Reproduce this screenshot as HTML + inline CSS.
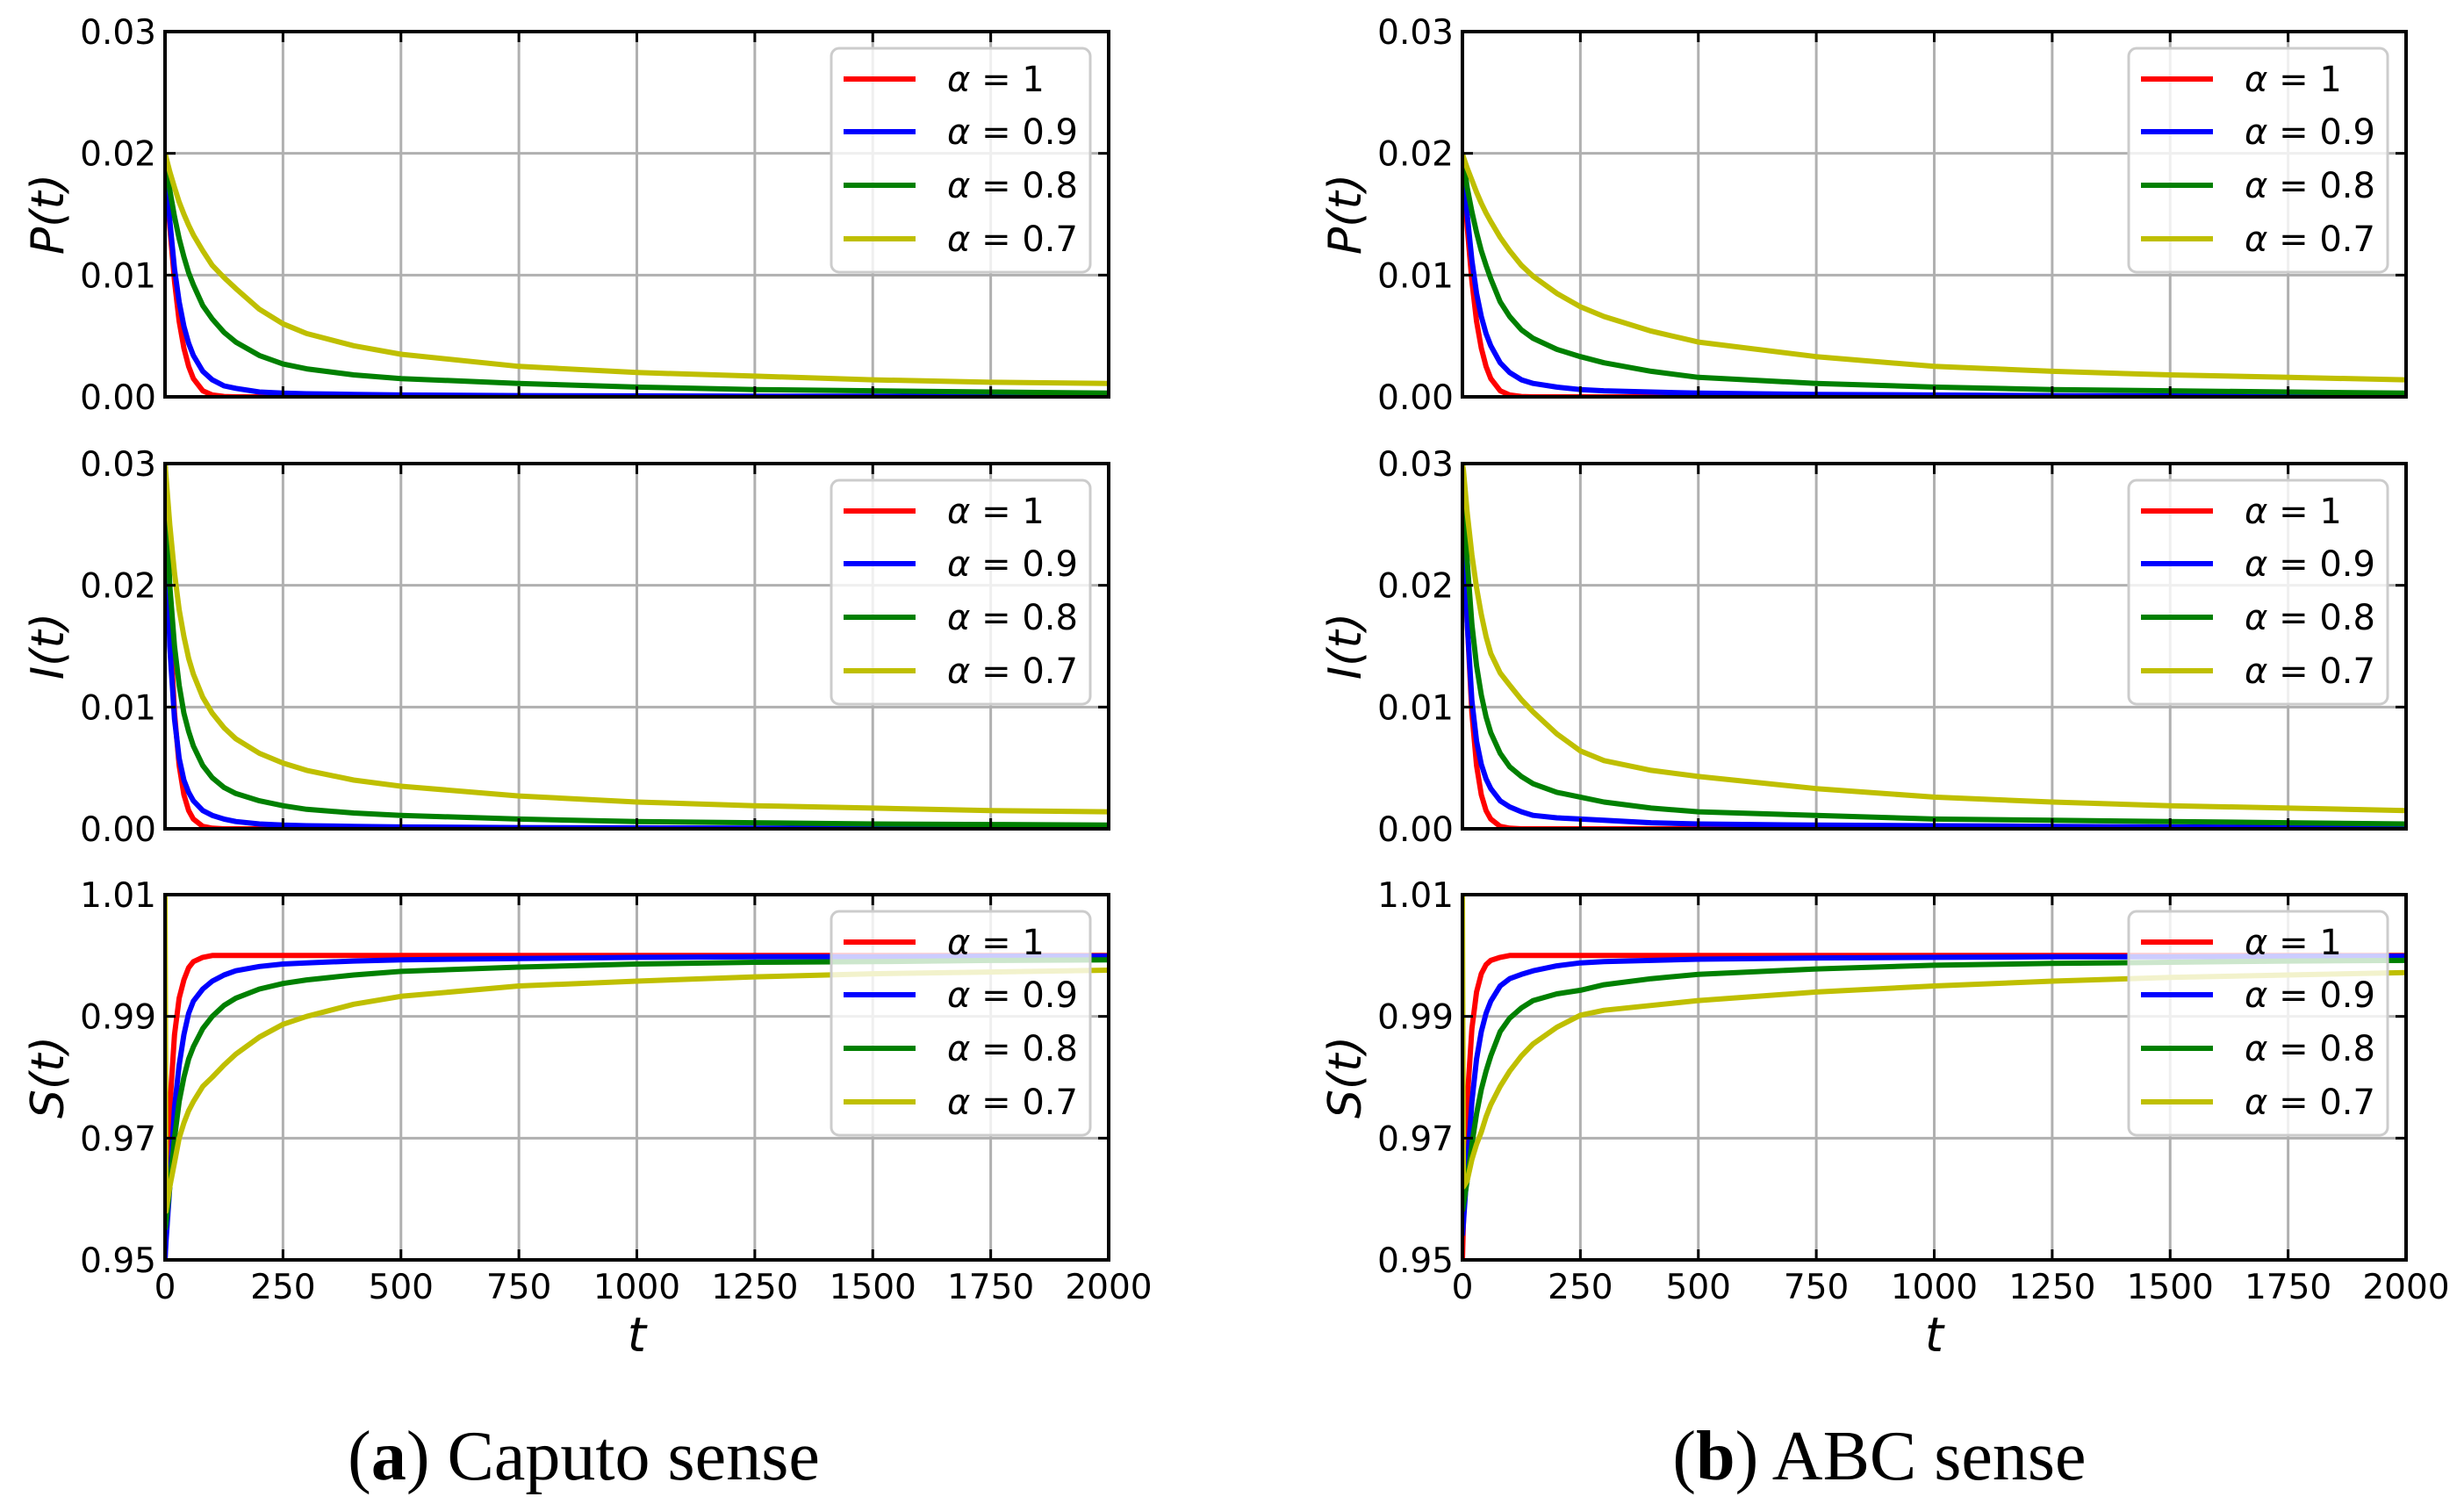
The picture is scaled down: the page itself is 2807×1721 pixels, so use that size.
<!DOCTYPE html>
<html><head><meta charset="utf-8"><style>
html,body{margin:0;padding:0;background:#fff;}
svg{display:block;}
text{font-family:"DejaVu Sans","Liberation Sans",sans-serif;}
</style></head><body>
<svg id="fig" width="2807" height="1721" viewBox="0 0 2807 1721" xmlns="http://www.w3.org/2000/svg"></svg>
<script>
// Shared time samples
const tSamples=[0,2,10,20,30,40,50,60,80,100,125,150,200,250,300,400,500,750,1000,1250,1500,1750,2000];
const xTickLabels=["0","250","500","750","1000","1250","1500","1750","2000"];
const xTickValues=[0,250,500,750,1000,1250,1500,1750,2000];
const legendLabels=["α = 1","α = 0.9","α = 0.8","α = 0.7"];
const seriesColors=["#ff0000","#0000ff","#008000","#bfbf00"];
const pTicks=[0,0.01,0.02,0.03];
const pTickLabels=["0.00","0.01","0.02","0.03"];
const sTicks=[0.95,0.97,0.99,1.01];
const sTickLabels=["0.95","0.97","0.99","1.01"];

// Caputo P(t)
const capP1=[0.02,0.019,0.014,0.0095,0.0062,0.004,0.0025,0.0015,0.0005,0.00015,0.00003,0,0,0,0,0,0,0,0,0,0,0,0];
const capP09=[0.02,0.019,0.0145,0.0105,0.0078,0.0058,0.0044,0.0034,0.0021,0.0014,0.0009,0.0007,0.0004,0.0003,0.00025,0.0002,0.00015,0.0001,0.00008,0.00006,0.00005,0.00004,0.00003];
const capP08=[0.02,0.0195,0.017,0.0148,0.013,0.0115,0.0102,0.0092,0.0075,0.0064,0.0053,0.0045,0.0034,0.0027,0.0023,0.0018,0.0015,0.0011,0.0008,0.0006,0.0005,0.0004,0.0003];
const capP07=[0.02,0.0197,0.0185,0.0172,0.016,0.015,0.0141,0.0133,0.012,0.0108,0.0098,0.0089,0.0072,0.006,0.0052,0.0042,0.0035,0.0025,0.002,0.0017,0.0014,0.0012,0.0011];
// Caputo I(t)
const capI1=[0.03,0.027,0.017,0.0095,0.0052,0.0028,0.0015,0.0008,0.0002,0.00005,0,0,0,0,0,0,0,0,0,0,0,0,0];
const capI09=[0.03,0.027,0.015,0.009,0.0058,0.004,0.003,0.0023,0.0015,0.0011,0.0008,0.0006,0.0004,0.0003,0.00025,0.0002,0.00015,0.0001,0.00008,0.00006,0.00005,0.00004,0.00003];
const capI08=[0.03,0.028,0.02,0.015,0.0118,0.0095,0.008,0.0068,0.0052,0.0042,0.0034,0.0029,0.0023,0.0019,0.0016,0.0013,0.0011,0.0008,0.0006,0.0005,0.0004,0.00035,0.0003];
const capI07=[0.03,0.029,0.025,0.021,0.018,0.0158,0.014,0.0127,0.0108,0.0095,0.0083,0.0074,0.0062,0.0054,0.0048,0.004,0.0035,0.0027,0.0022,0.0019,0.0017,0.0015,0.0014];
// Caputo S(t)
const capS1=[0.95,0.955,0.975,0.987,0.993,0.996,0.998,0.999,0.9997,1.0,1.0,1.0,1.0,1.0,1.0,1.0,1.0,1.0,1.0,1.0,1.0,1.0,1.0];
const capS09=[0.95,0.953,0.962,0.975,0.982,0.987,0.9905,0.9925,0.9945,0.9958,0.9968,0.9975,0.9982,0.9986,0.9988,0.9991,0.9993,0.9995,0.9997,0.9998,0.9998,0.9999,0.9999];
const capS08=[0.955,0.956,0.962,0.97,0.976,0.98,0.983,0.985,0.988,0.99,0.9918,0.993,0.9945,0.9954,0.996,0.9968,0.9974,0.9981,0.9986,0.9989,0.999,0.9992,0.9993];
const capS07=[1.012,0.958,0.962,0.966,0.97,0.9725,0.9745,0.976,0.9785,0.98,0.982,0.9838,0.9866,0.9887,0.99,0.992,0.9933,0.995,0.9958,0.9965,0.997,0.9973,0.9976];
// ABC P(t)
const abcP1=[0.02,0.019,0.014,0.0095,0.0062,0.004,0.0025,0.0015,0.0005,0.00015,0.00003,0,0,0,0,0,0,0,0,0,0,0,0];
const abcP09=[0.02,0.019,0.015,0.0112,0.0085,0.0066,0.0052,0.0042,0.0028,0.002,0.0014,0.0011,0.0008,0.0006,0.0005,0.0004,0.0003,0.0002,0.00015,0.0001,0.00008,0.00006,0.00005];
const abcP08=[0.02,0.0195,0.0172,0.0152,0.0135,0.012,0.0108,0.0097,0.0078,0.0066,0.0055,0.0048,0.0039,0.0033,0.0028,0.0021,0.0016,0.0011,0.0008,0.0006,0.0005,0.0004,0.0003];
const abcP07=[0.02,0.0197,0.0188,0.0178,0.0168,0.0159,0.0151,0.0144,0.0131,0.012,0.0108,0.0099,0.0085,0.0074,0.0066,0.0054,0.0045,0.0033,0.0025,0.0021,0.0018,0.0016,0.0014];
// ABC I(t)
const abcI1=[0.03,0.027,0.017,0.0095,0.0052,0.0028,0.0015,0.0008,0.0002,0.00005,0,0,0,0,0,0,0,0,0,0,0,0,0];
const abcI09=[0.03,0.027,0.017,0.0105,0.0072,0.0053,0.0041,0.0033,0.0023,0.0018,0.0014,0.0011,0.0009,0.0008,0.0007,0.0005,0.0004,0.0003,0.00025,0.0002,0.00015,0.00012,0.0001];
const abcI08=[0.03,0.029,0.022,0.0168,0.0134,0.011,0.0092,0.0079,0.0062,0.0051,0.0043,0.0037,0.003,0.0026,0.0022,0.0017,0.0014,0.0011,0.0008,0.0007,0.0006,0.0005,0.0004];
const abcI07=[0.03,0.0295,0.026,0.0225,0.0198,0.0176,0.0158,0.0144,0.0128,0.0118,0.0106,0.0096,0.0078,0.0064,0.0056,0.0048,0.0043,0.0033,0.0026,0.0022,0.0019,0.0017,0.0015];
// ABC S(t)
const abcS1=[0.95,0.956,0.976,0.988,0.994,0.997,0.9985,0.9992,0.9997,1.0,1.0,1.0,1.0,1.0,1.0,1.0,1.0,1.0,1.0,1.0,1.0,1.0,1.0];
const abcS09=[0.954,0.956,0.965,0.976,0.983,0.9875,0.9905,0.9925,0.995,0.9962,0.9969,0.9975,0.9983,0.9988,0.999,0.9992,0.9994,0.9996,0.9997,0.9998,0.9998,0.9999,0.9999];
const abcS08=[0.958,0.959,0.963,0.969,0.974,0.978,0.981,0.9835,0.9875,0.9897,0.9914,0.9926,0.9937,0.9943,0.9952,0.9962,0.9969,0.9978,0.9984,0.9987,0.9989,0.9991,0.9992];
const abcS07=[1.012,0.962,0.963,0.9665,0.969,0.971,0.9735,0.9755,0.9785,0.981,0.9835,0.9855,0.9882,0.9902,0.991,0.9918,0.9926,0.994,0.995,0.9958,0.9964,0.9968,0.9972];

const NS="http://www.w3.org/2000/svg";
const svg=document.getElementById('fig');
function mk(tag,attrs,parent){const e=document.createElementNS(NS,tag);for(const k in attrs)e.setAttribute(k,attrs[k]);(parent||svg).appendChild(e);return e;}

const PW=1075, PH=416;
const panelTops=[36,528,1019];
let clipId=0;

function drawPanel(x0,y0,ymin,ymax,yticks,ytl,series,ylab,showX,key){
  const g=mk('g',{});
  
  
  const xs=t=>x0+t/2000*PW;
  const ys=v=>y0+PH-(v-ymin)/(ymax-ymin)*PH;
  xTickValues.forEach(t=>{
    const l=mk('line',{x1:xs(t),x2:xs(t),y1:y0,y2:y0+PH,stroke:'#b0b0b0','stroke-width':3},g);
    
    
  });
  yticks.forEach(v=>{
    const l=mk('line',{x1:x0,x2:x0+PW,y1:ys(v),y2:ys(v),stroke:'#b0b0b0','stroke-width':3},g);
    
    
  });
  const cid='clip'+(clipId++);
  const cp=mk('clipPath',{id:cid},g);mk('rect',{x:x0,y:y0,width:PW,height:PH},cp);
  const sg=mk('g',{'clip-path':'url(#'+cid+')'},g);
  series.forEach((arr,i)=>{
    const d=arr.map((v,j)=>(j?'L':'M')+xs(tSamples[j]).toFixed(1)+' '+ys(v).toFixed(1)).join(' ');
    const p=mk('path',{d:d,fill:'none',stroke:seriesColors[i],'stroke-width':6,'stroke-linejoin':'round'},sg);
    
    
  });
  yticks.forEach(v=>{
    mk('line',{x1:x0,x2:x0+12,y1:ys(v),y2:ys(v),stroke:'#000','stroke-width':3},g);
    mk('line',{x1:x0+PW-12,x2:x0+PW,y1:ys(v),y2:ys(v),stroke:'#000','stroke-width':3},g);
  });
  xTickValues.forEach(t=>{
    mk('line',{x1:xs(t),x2:xs(t),y1:y0,y2:y0+12,stroke:'#000','stroke-width':3},g);
    mk('line',{x1:xs(t),x2:xs(t),y1:y0+PH-12,y2:y0+PH,stroke:'#000','stroke-width':3},g);
  });
  const fr=mk('rect',{x:x0,y:y0,width:PW,height:PH,fill:'none',stroke:'#000','stroke-width':4},g);
  
  
  yticks.forEach((v,i)=>{
    const t=mk('text',{x:x0-10,y:ys(v)+14,'text-anchor':'end','font-size':39},g);
    t.textContent=ytl[i];
    
    
  });
  if(showX){
    xTickValues.forEach((v,i)=>{
      const t=mk('text',{x:xs(v),y:y0+PH+44,'text-anchor':'middle','font-size':39},g);
      t.textContent=xTickLabels[i];
      
      
    });
    const xl=mk('text',{x:x0+PW/2,y:y0+PH+104,'text-anchor':'middle','font-size':54,'font-style':'italic'},g);
    xl.textContent='t';
    
    
  }
  const yl=mk('text',{x:0,y:0,'text-anchor':'middle','font-size':52,'font-style':'italic',transform:'translate('+(x0-116)+','+(y0+PH/2)+') rotate(-90)'},g);
  yl.textContent=ylab;
  
  
  const lg=mk('g',{},g);
  
  
  mk('rect',{x:x0+759,y:y0+19,width:295,height:255,rx:9,fill:'#fff','fill-opacity':0.8,stroke:'#cccccc','stroke-width':3},lg);
  const rowY=[54,114,175,236];
  legendLabels.forEach((lab,i)=>{
    const ln=mk('line',{x1:x0+773,x2:x0+855,y1:y0+rowY[i],y2:y0+rowY[i],stroke:seriesColors[i],'stroke-width':6},lg);
    
    
    const tx=mk('text',{x:x0+891,y:y0+rowY[i]+14,'font-size':40},lg);
    tx.innerHTML='<tspan font-style="italic">α</tspan> = '+lab.replace('α = ','');
    
    
  });
}

const cols=[{x:188,key:'caputo',P:[capP1,capP09,capP08,capP07],I:[capI1,capI09,capI08,capI07],S:[capS1,capS09,capS08,capS07]},
            {x:1666,key:'abc',P:[abcP1,abcP09,abcP08,abcP07],I:[abcI1,abcI09,abcI08,abcI07],S:[abcS1,abcS09,abcS08,abcS07]}];
cols.forEach(c=>{
  drawPanel(c.x,panelTops[0],0,0.03,pTicks,pTickLabels,c.P,'P(t)',false,c.key+'-p');
  drawPanel(c.x,panelTops[1],0,0.03,pTicks,pTickLabels,c.I,'I(t)',false,c.key+'-i');
  drawPanel(c.x,panelTops[2],0.95,1.01,sTicks,sTickLabels,c.S,'S(t)',true,c.key+'-s');
});
const caps=[{x:665,b:'a',t:' Caputo sense',n:'caption-a'},{x:2141,b:'b',t:' ABC sense',n:'caption-b'}];
caps.forEach(c=>{
  const t=mk('text',{x:c.x,y:1685,'text-anchor':'middle','font-size':80,style:'font-family:"Liberation Serif",serif'});
  t.innerHTML='(<tspan font-weight="bold">'+c.b+'</tspan>)'+c.t;
  
  
});
</script>
</body></html>
